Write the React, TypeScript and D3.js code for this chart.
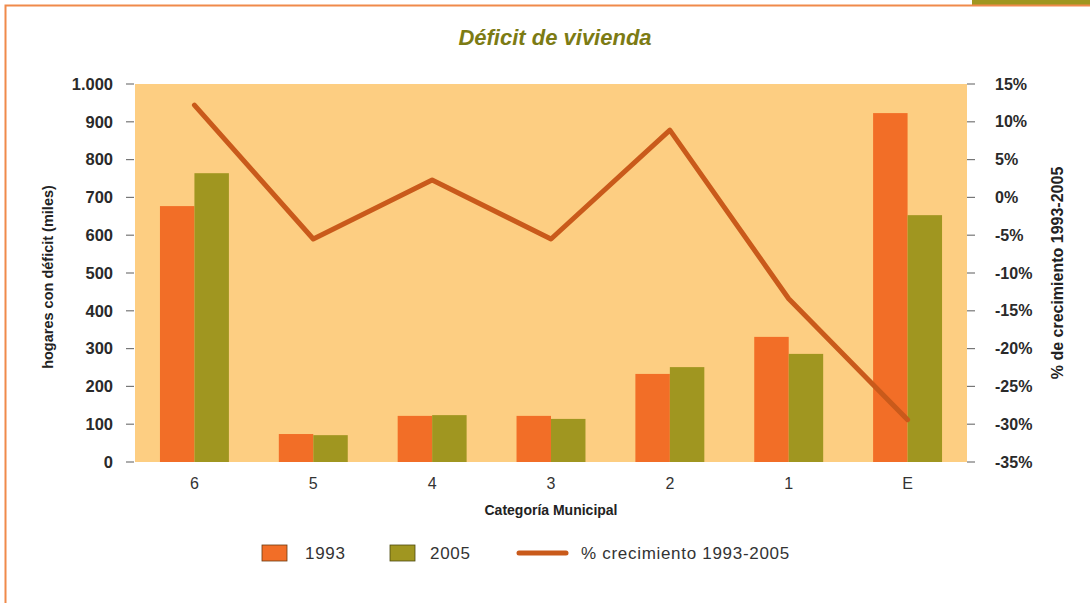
import React, { useEffect, useRef } from 'react';
import * as d3 from 'd3';

const categories = ['6', '5', '4', '3', '2', '1', 'E'];
const values1993 = [677, 74, 122, 122, 233, 331, 923];
const values2005 = [764, 71, 124, 114, 251, 286, 653];
const growthPct = [12.2, -5.5, 2.3, -5.5, 8.9, -13.4, -29.4];
const leftTicks = [0, 100, 200, 300, 400, 500, 600, 700, 800, 900, 1000];
const rightTicks = [15, 10, 5, 0, -5, -10, -15, -20, -25, -30, -35];

const FONT = '"Liberation Sans", Arial, sans-serif';
const ORANGE = '#F26E27';
const OLIVE = '#A09620';
const LINE = '#C95A1B';

const App = () => {
    const svgRef = useRef<SVGSVGElement>(null);

    useEffect(() => {
        const width = 1090;
        const height = 603;
        const plot = { left: 135, right: 967, top: 84, bottom: 462 };

        const svg = d3.select(svgRef.current);
        svg.selectAll('*').remove();

        // page frame
        svg.append('rect').attr('x', 972).attr('y', 0).attr('width', 118).attr('height', 5).attr('fill', OLIVE);
        svg.append('path')
            .attr('d', `M5.5,${height} V5.5 H${width}`)
            .attr('fill', 'none')
            .attr('stroke', '#F08A4B')
            .attr('stroke-width', 2);

        svg.append('text')
            .attr('x', 555).attr('y', 45)
            .attr('text-anchor', 'middle')
            .attr('font-family', FONT)
            .attr('font-style', 'italic')
            .attr('font-weight', 'bold')
            .attr('font-size', 22)
            .attr('fill', '#7C7B14')
            .text('Déficit de vivienda');

        const x = d3.scaleBand().domain(categories).range([plot.left, plot.right]).paddingInner(0.42).paddingOuter(0.21);
        const xSub = d3.scaleBand().domain(['1993', '2005']).range([0, x.bandwidth()]);
        const yL = d3.scaleLinear().domain([0, 1000]).range([plot.bottom, plot.top]);
        const yR = d3.scaleLinear().domain([-35, 15]).range([plot.bottom, plot.top]);

        svg.append('rect')
            .attr('x', plot.left).attr('y', plot.top)
            .attr('width', plot.right - plot.left).attr('height', plot.bottom - plot.top)
            .attr('fill', '#FDCE82');

        // bars
        const g = svg.append('g');
        categories.forEach((c, i) => {
            g.append('rect')
                .attr('x', x(c)! + xSub('1993')!)
                .attr('y', yL(values1993[i]))
                .attr('width', xSub.bandwidth())
                .attr('height', yL(0) - yL(values1993[i]))
                .attr('fill', ORANGE);
            g.append('rect')
                .attr('x', x(c)! + xSub('2005')!)
                .attr('y', yL(values2005[i]))
                .attr('width', xSub.bandwidth())
                .attr('height', yL(0) - yL(values2005[i]))
                .attr('fill', OLIVE);
        });

        // growth line
        const line = d3.line<number>()
            .x((_, i) => x(categories[i])! + x.bandwidth() / 2)
            .y(d => yR(d));
        svg.append('path')
            .datum(growthPct)
            .attr('d', line)
            .attr('fill', 'none')
            .attr('stroke', LINE)
            .attr('stroke-width', 5)
            .attr('stroke-linecap', 'round')
            .attr('stroke-linejoin', 'round');

        // left axis
        const left = svg.append('g');
        leftTicks.forEach(t => {
            left.append('line')
                .attr('x1', 126).attr('x2', 134)
                .attr('y1', yL(t)).attr('y2', yL(t))
                .attr('stroke', '#777').attr('stroke-width', 1.2);
            left.append('text')
                .attr('x', 113).attr('y', yL(t)).attr('dy', '0.35em')
                .attr('text-anchor', 'end')
                .attr('font-family', FONT).attr('font-size', 16.5).attr('font-weight', 'bold')
                .attr('fill', '#2a2a2a')
                .text(d3.format(',')(t).replace(',', '.'));
        });

        // right axis
        const right = svg.append('g');
        rightTicks.forEach(t => {
            right.append('line')
                .attr('x1', 967).attr('x2', 975)
                .attr('y1', yR(t)).attr('y2', yR(t))
                .attr('stroke', '#777').attr('stroke-width', 1.2);
            right.append('text')
                .attr('x', 995).attr('y', yR(t)).attr('dy', '0.35em')
                .attr('font-family', FONT).attr('font-size', 16).attr('font-weight', 'bold')
                .attr('fill', '#2a2a2a')
                .text(`${t}%`);
        });

        // x axis
        categories.forEach(c => {
            svg.append('text')
                .attr('x', x(c)! + x.bandwidth() / 2).attr('y', 489)
                .attr('text-anchor', 'middle')
                .attr('font-family', FONT).attr('font-size', 16)
                .attr('fill', '#333')
                .text(c);
        });

        svg.append('text')
            .attr('x', 551).attr('y', 515)
            .attr('text-anchor', 'middle')
            .attr('font-family', FONT).attr('font-size', 14).attr('font-weight', 'bold')
            .attr('fill', '#222')
            .text('Categoría Municipal');

        svg.append('text')
            .attr('transform', 'translate(53,277) rotate(-90)')
            .attr('text-anchor', 'middle')
            .attr('font-family', FONT).attr('font-size', 14.5).attr('font-weight', 'bold')
            .attr('fill', '#222')
            .text('hogares con déficit (miles)');

        svg.append('text')
            .attr('transform', 'translate(1063,273) rotate(-90)')
            .attr('text-anchor', 'middle')
            .attr('font-family', FONT).attr('font-size', 16).attr('font-weight', 'bold')
            .attr('fill', '#222')
            .text('% de crecimiento 1993-2005');

        // legend
        const leg = svg.append('g').attr('font-family', FONT).attr('font-size', 17).attr('fill', '#333')
            .attr('letter-spacing', 0.7);
        leg.append('rect').attr('x', 262).attr('y', 545).attr('width', 25).attr('height', 16)
            .attr('fill', ORANGE).attr('stroke', '#6b3a10').attr('stroke-width', 0.8);
        leg.append('text').attr('x', 305).attr('y', 559).text('1993');
        leg.append('rect').attr('x', 390).attr('y', 545).attr('width', 25).attr('height', 16)
            .attr('fill', OLIVE).attr('stroke', '#4d4a10').attr('stroke-width', 0.8);
        leg.append('text').attr('x', 430).attr('y', 559).text('2005');
        leg.append('line').attr('x1', 519).attr('x2', 566).attr('y1', 553).attr('y2', 553)
            .attr('stroke', LINE).attr('stroke-width', 5).attr('stroke-linecap', 'round');
        leg.append('text').attr('x', 581).attr('y', 559).text('% crecimiento 1993-2005');
    }, []);

    return (
        <svg
            ref={svgRef}
            width={1090}
            height={603}
            style={{ position: 'absolute', top: 0, left: 0, background: '#fff' }}
        />
    );
};

export default App;
